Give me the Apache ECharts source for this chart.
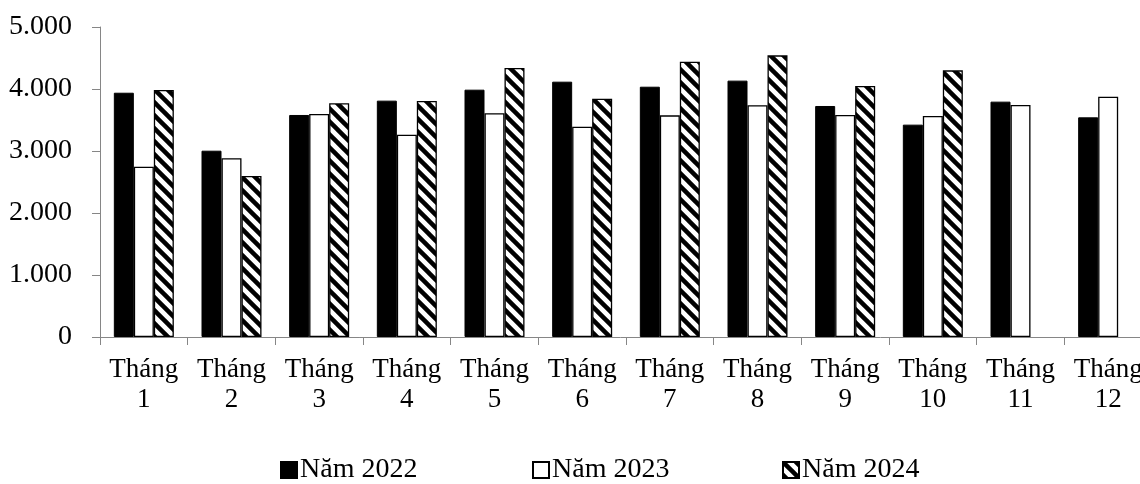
<!DOCTYPE html>
<html>
<head>
<meta charset="utf-8">
<script src="https://cdn.jsdelivr.net/npm/echarts@6/dist/echarts.min.js"></script>
<style>
html,body{margin:0;padding:0;background:#fff;}
#chart{width:1140px;height:484px;}
</style>
</head>
<body>
<div id="chart"></div>
<script>
const categories = ['Tháng\n1','Tháng\n2','Tháng\n3','Tháng\n4','Tháng\n5','Tháng\n6','Tháng\n7','Tháng\n8','Tháng\n9','Tháng\n10','Tháng\n11','Tháng\n12'];
const seriesNames = ['Năm 2022','Năm 2023','Năm 2024'];
const values2022 = [3940, 3005, 3581, 3812, 3989, 4118, 4037, 4135, 3726, 3425, 3796, 3543];
const values2023 = [2747, 2882, 3597, 3263, 3608, 3392, 3575, 3737, 3581, 3565, 3742, 3876];
const values2024 = [3984, 2597, 3769, 3806, 4339, 3844, 4441, 4543, 4048, 4301, null, null];
const yTicks = [0, 1000, 2000, 3000, 4000, 5000];

function makeHatch() {
  const s = 13;
  const c = document.createElement('canvas');
  c.width = s; c.height = s;
  const ctx = c.getContext('2d');
  ctx.fillStyle = '#fff';
  ctx.fillRect(0, 0, s, s);
  ctx.strokeStyle = '#000';
  ctx.lineWidth = 4.5;
  for (let k = -1; k <= 1; k++) {
    ctx.beginPath();
    ctx.moveTo(-3, -3 + k * s);
    ctx.lineTo(s + 3, s + 3 + k * s);
    ctx.stroke();
  }
  return c;
}
const hatch = { image: makeHatch(), repeat: 'repeat' };

const font = '"Liberation Serif", "Times New Roman", serif';
const chart = echarts.init(document.getElementById('chart'), null, { renderer: 'canvas' });

function legendAt(left, name) {
  return {
    left: left, top: 451, orient: 'horizontal',
    itemWidth: 16, itemHeight: 16, itemGap: 0,
    icon: 'rect',
    textStyle: { fontFamily: font, fontSize: 28, color: '#000', padding: [0,0,0,-2] },
    data: [name], selectedMode: false
  };
}

chart.setOption({
  backgroundColor: '#fff',
  animation: false,
  grid: { left: 100, top: 27, width: 1052, height: 310, containLabel: false, outerBoundsMode: 'none' },
  legend: [legendAt(275, seriesNames[0]), legendAt(527, seriesNames[1]), legendAt(777, seriesNames[2])],
  xAxis: {
    type: 'category',
    data: categories,
    axisLine: { lineStyle: { color: '#868686', width: 1 } },
    axisTick: { show: true, length: 8, lineStyle: { color: '#868686' }, alignWithLabel: false },
    axisLabel: { fontFamily: font, fontSize: 27, color: '#000', lineHeight: 30, margin: 18, interval: 0 },
    splitLine: { show: false }
  },
  yAxis: {
    type: 'value',
    min: yTicks[0], max: yTicks[yTicks.length - 1], interval: 1000,
    axisLine: { show: true, lineStyle: { color: '#868686', width: 1 } },
    axisTick: { show: true, length: 8, lineStyle: { color: '#868686' } },
    axisLabel: {
      fontFamily: font, fontSize: 28, color: '#000', margin: 28,
      formatter: v => v === 0 ? '0' : (v / 1000) + '.000'
    },
    splitLine: { show: false }
  },
  series: [
    { name: seriesNames[0], type: 'bar', data: values2022, barWidth: 20, barGap: '0%',
      itemStyle: { color: '#000', borderColor: '#000', borderWidth: 1 } },
    { name: seriesNames[1], type: 'bar', data: values2023, barWidth: 20, barGap: '0%',
      itemStyle: { color: '#fff', borderColor: '#000', borderWidth: 1.3 } },
    { name: seriesNames[2], type: 'bar', data: values2024, barWidth: 20, barGap: '0%',
      itemStyle: { color: hatch, borderColor: '#000', borderWidth: 1.3 } }
  ]
});
</script>
</body>
</html>
